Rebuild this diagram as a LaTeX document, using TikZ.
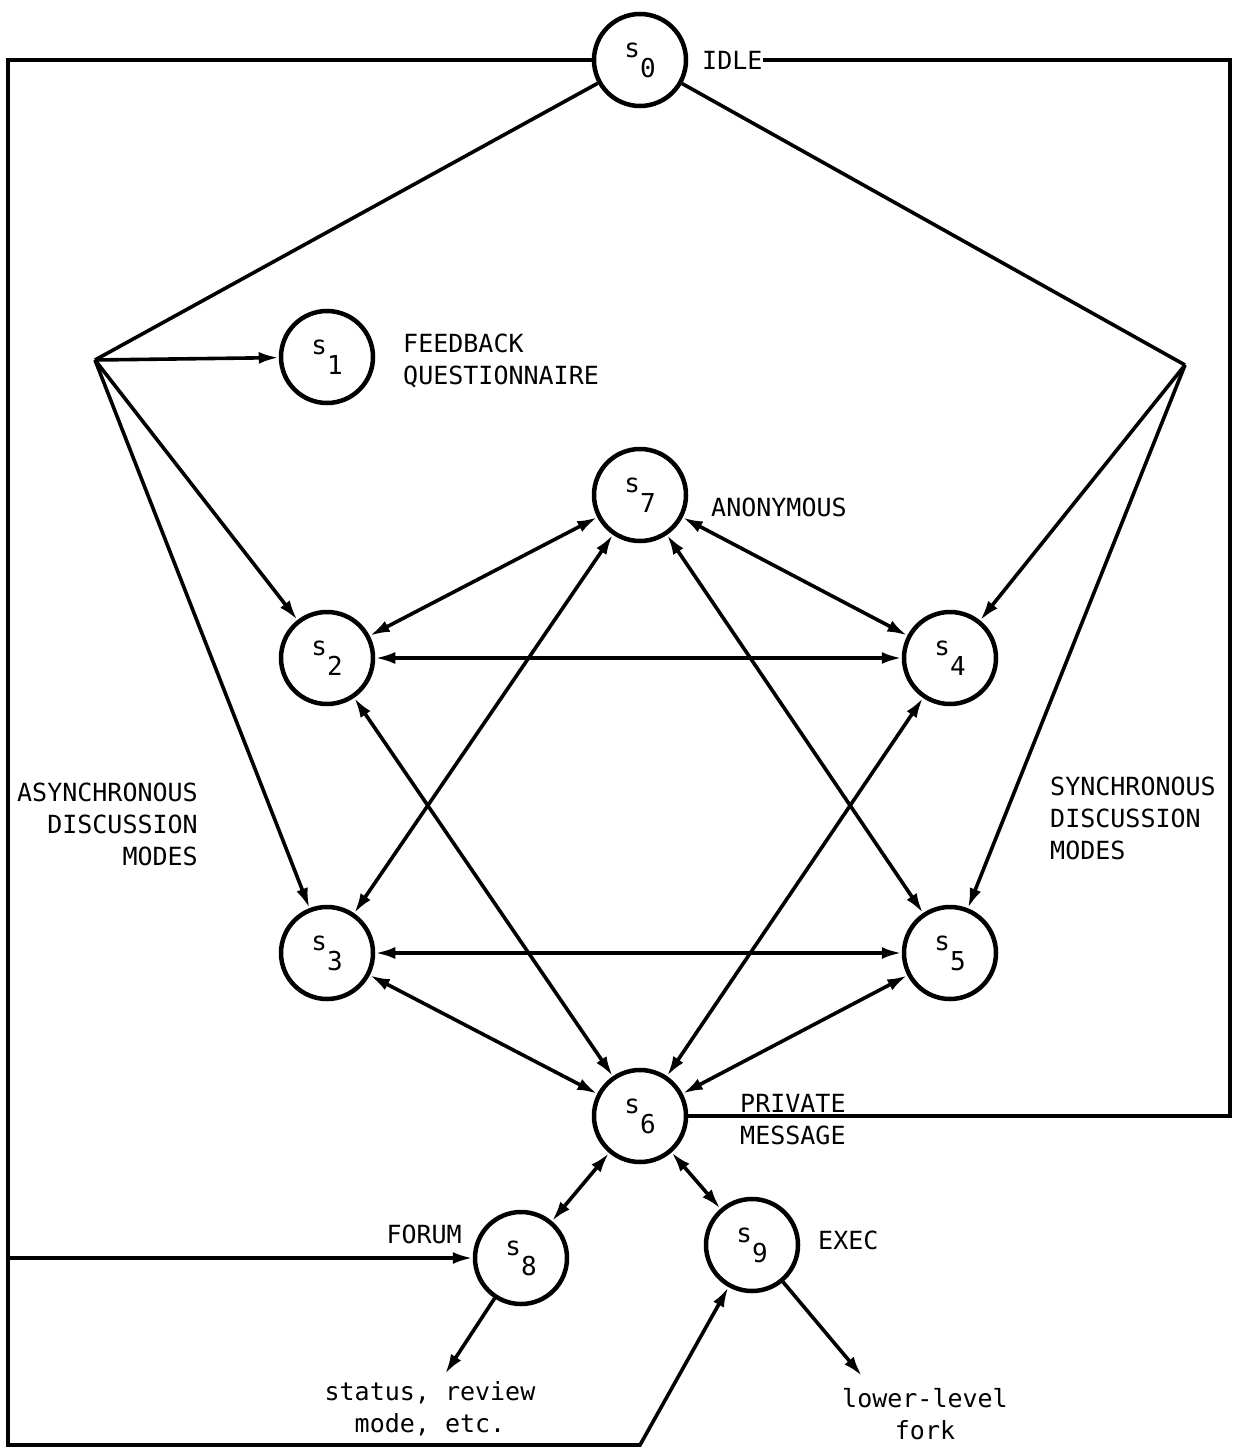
\documentclass[tikz,border=0pt]{standalone}
\usepackage{fontspec}
\newfontfamily\lblfont{DejaVu Sans Mono}
\usetikzlibrary{arrows.meta}
\newcommand\sname[1]{s\raisebox{-20pt}{#1}}
\begin{document}
\begin{tikzpicture}[x=1pt,y=-1pt,
  state/.style={circle,draw,line width=4.5pt,minimum size=92pt,inner sep=0pt,font=\lblfont\fontsize{26}{30}\selectfont},
  conn/.style={line width=3.6pt},
  tip/.style={-{Latex[length=20pt,width=12pt]}},
  otip/.style={-{Latex[open,length=20pt,width=12pt]}},
  dbl/.style={{Latex[length=20pt,width=12pt]}-{Latex[length=20pt,width=12pt]}},
  lbl/.style={font=\lblfont\fontsize{25}{32}\selectfont,inner sep=0pt}
]
\useasboundingbox (0,0) rectangle (1236,1453);

% states
\node[state] (s0) at (640,60) {\sname{0}};
\node[state] (s1) at (327,357) {\sname{1}};
\node[state] (s7) at (640,495) {\sname{7}};
\node[state] (s2) at (327,658) {\sname{2}};
\node[state] (s4) at (950,658) {\sname{4}};
\node[state] (s3) at (327,953) {\sname{3}};
\node[state] (s5) at (950,953) {\sname{5}};
\node[state] (s6) at (640,1116) {\sname{6}};
\node[state] (s8) at (521,1258) {\sname{8}};
\node[state] (s9) at (752,1245) {\sname{9}};

% labels
\node[lbl,anchor=west] (idle) at (702,60) {IDLE};
\node[lbl,anchor=west,align=left] (fb) at (403,361) {FEEDBACK\\QUESTIONNAIRE};
\node[lbl,anchor=west] (anon) at (711,507) {ANONYMOUS};
\node[lbl,anchor=east,align=right] (async) at (198,824) {ASYNCHRONOUS\\DISCUSSION\\MODES};
\node[lbl,anchor=west,align=left] (sync) at (1050,818) {SYNCHRONOUS\\DISCUSSION\\MODES};
\node[lbl,anchor=west,align=left] (priv) at (740,1120) {PRIVATE\\MESSAGE};
\node[lbl,anchor=east] (forum) at (462,1234) {FORUM};
\node[lbl,anchor=west] (exec) at (818,1240) {EXEC};
\node[lbl,align=center] (status) at (430,1409) {status, review\\mode, etc.};
\node[lbl,align=center] (lower) at (925,1414) {lower-level\\fork};

% coordinates
\coordinate (bl) at (95,360);
\coordinate (br) at (1185,365);
\coordinate (tl) at (8,60);
\coordinate (ml) at (8,1258);
\coordinate (botl) at (8,1445);
\coordinate (botm) at (640,1445);
\coordinate (tr) at (1230,60);
\coordinate (rb) at (1230,1116);
\coordinate (sa) at (445,1374);
\coordinate (la) at (862,1376);

% branch lines from s0
\draw[conn] (s0) -- (bl);
\draw[conn] (s0) -- (br);
\draw[conn,otip] (bl) -- (s1);
\draw[conn,tip] (bl) -- (s2);
\draw[conn,tip] (bl) -- (s3);
\draw[conn,tip] (br) -- (s4);
\draw[conn,tip] (br) -- (s5);

% interior double arrows
\draw[conn,dbl] (s7) -- (s2);
\draw[conn,dbl] (s7) -- (s4);
\draw[conn,dbl] (s2) -- (s4);
\draw[conn,dbl] (s3) -- (s5);
\draw[conn,dbl] (s7) -- (s3);
\draw[conn,dbl] (s7) -- (s5);
\draw[conn,dbl] (s2) -- (s6);
\draw[conn,dbl] (s4) -- (s6);
\draw[conn,dbl] (s3) -- (s6);
\draw[conn,dbl] (s5) -- (s6);
\draw[conn,dbl] (s6) -- (s8);
\draw[conn,dbl] (s6) -- (s9);

% outputs
\draw[conn,tip] (s8) -- (sa);
\draw[conn,tip] (s9) -- (la);

% outer loops
\draw[conn] (idle.east) -- (tr) -- (rb) -- (s6);
\draw[conn,tip] (s0.west) -- (tl) -- (botl) -- (botm) -- (s9);
\draw[conn,tip] (ml) -- (s8);
\end{tikzpicture}
\end{document}
